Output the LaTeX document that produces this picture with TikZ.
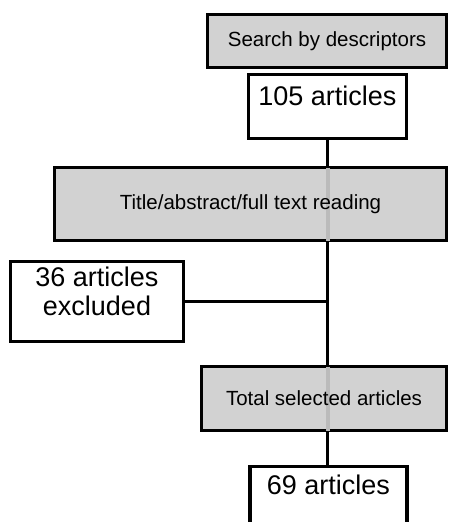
\documentclass[tikz,border=0pt]{standalone}
\usepackage{fontspec}
\setmainfont{Liberation Sans}
\definecolor{boxgray}{HTML}{D2D2D2}
\definecolor{stripegray}{HTML}{BBBBBB}
\begin{document}
\begin{tikzpicture}[x=1pt,y=-1pt,
  graybox/.style={draw, line width=3.2pt, fill=boxgray, inner sep=0pt,
    font=\fontsize{20.5}{23}\selectfont},
  whitebox/.style={draw, line width=3.2pt, fill=white, inner sep=0pt},
  bigtext/.style={font=\fontsize{27}{29}\selectfont, inner sep=0pt, align=center},
  conn/.style={line width=3pt},
  stripe/.style={line width=4pt, stripegray}]
\useasboundingbox (0,0) rectangle (450,522);
% boxes
\node[graybox, minimum width=239pt, minimum height=53pt] (search) at (327,41) {Search by descriptors};
\node[whitebox, minimum width=158pt, minimum height=64pt] (n105) at (327.5,106.5) {};
\node[bigtext, anchor=base] (t105) at (327.5,105) {105 articles};
\node[graybox, minimum width=392pt, minimum height=73pt] (title) at (250.5,204) {};
\node[whitebox, minimum width=173pt, minimum height=80pt] (excl) at (97,301.5) {};
\node[graybox, minimum width=245pt, minimum height=64pt] (total) at (324,398.5) {};
\node[whitebox, minimum width=157pt, minimum height=90pt] (n69) at (328.5,511.5) {};
% stripes through gray boxes
\draw[stripe] ([yshift=-1.6pt]title.north -| n105.south) -- ([yshift=1.6pt]title.south -| n105.south);
\draw[stripe] ([yshift=-1.6pt]total.north -| n105.south) -- ([yshift=1.6pt]total.south -| n105.south);
% redraw text on top of stripes
\node[font=\fontsize{20.5}{23}\selectfont, inner sep=0pt] (ttitle) at (title.center) {Title/abstract/full text reading};
\node[font=\fontsize{20.5}{23}\selectfont, inner sep=0pt] (ttotal) at (total.center) {Total selected articles};
\node[bigtext, anchor=base] (texcl1) at (97,286) {36 articles};
\node[bigtext, anchor=base] (texcl2) at (97,315) {excluded};
\node[bigtext, anchor=base] (t69) at (328.5,494) {69 articles};
% connectors
\draw[conn] (n105.south) -- (n105.south |- title.north);
\draw[conn] (title.south -| n105.south) -- (total.north -| n105.south);
\draw[conn] (excl.east) -- (excl.east -| n105.south);
\draw[conn] (total.south -| n105.south) -- (n69.north -| n105.south);
\end{tikzpicture}
\end{document}
